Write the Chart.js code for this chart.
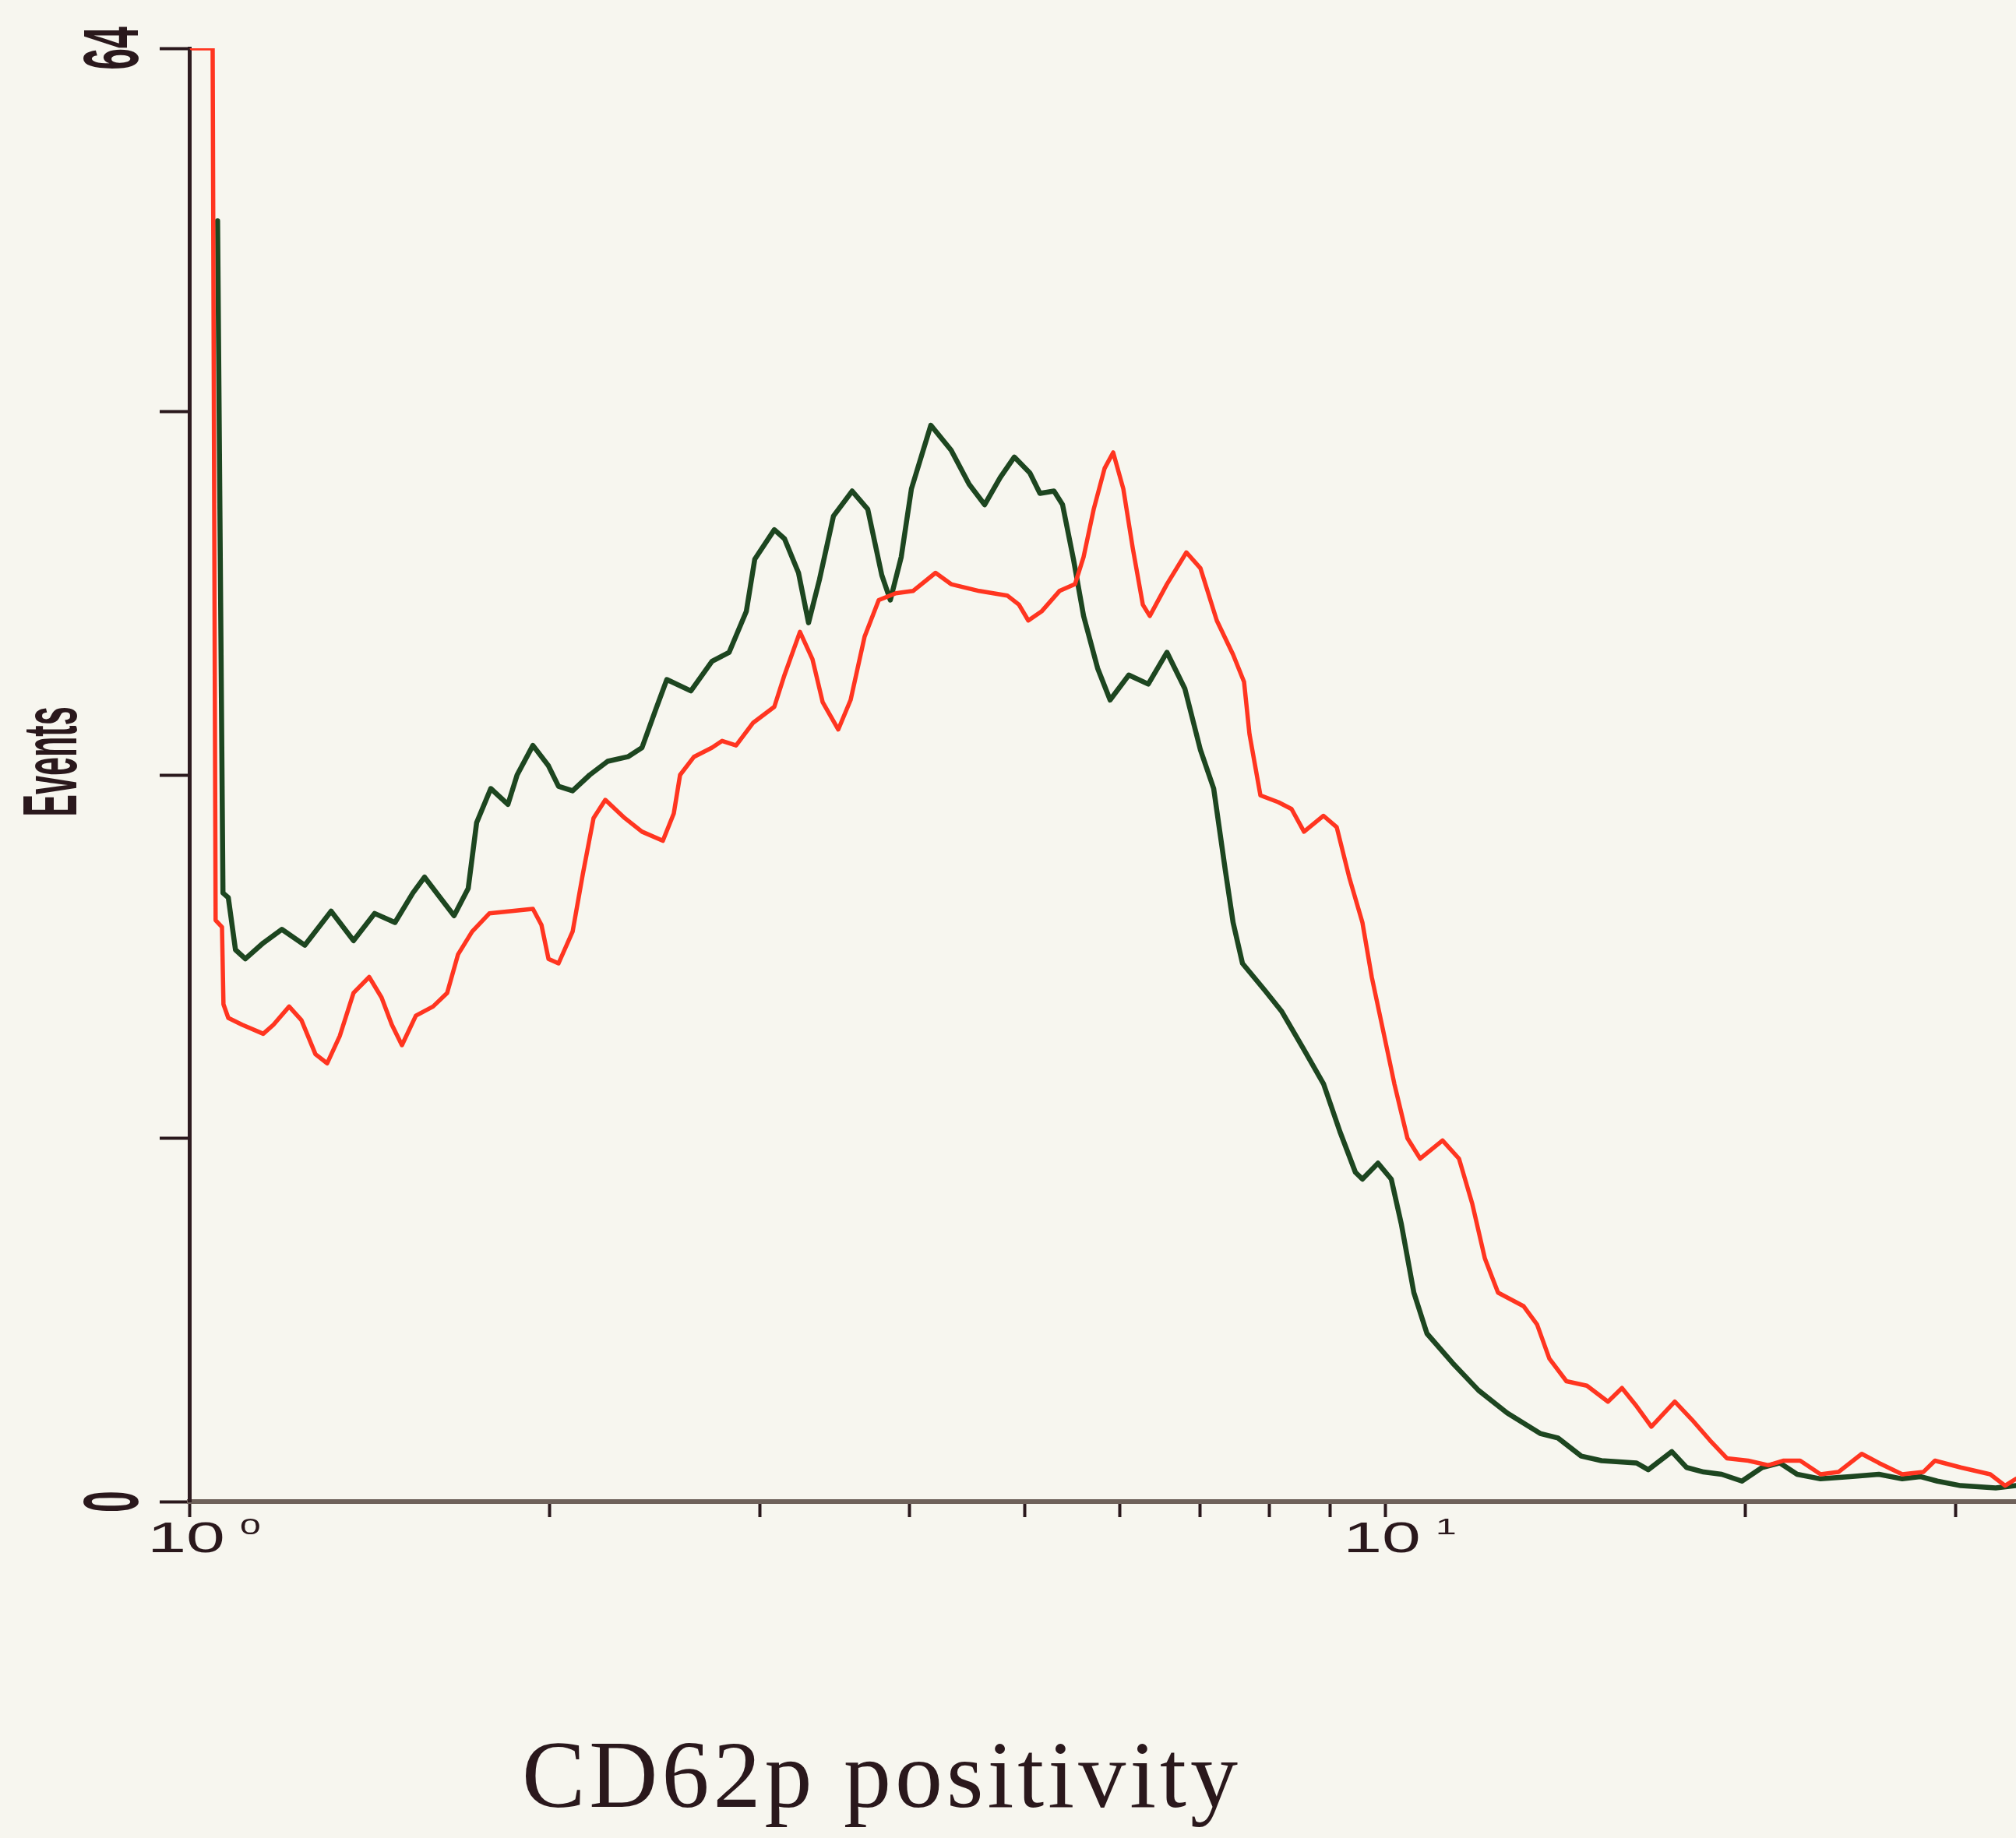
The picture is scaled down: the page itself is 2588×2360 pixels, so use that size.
<!DOCTYPE html>
<html>
<head>
<meta charset="utf-8">
<title>CD62p positivity</title>
<script src="https://cdn.jsdelivr.net/npm/chart.js@4.4.1/dist/chart.umd.min.js"></script>
<style>
  html, body { margin: 0; padding: 0; background: #f7f6ef; }
  canvas { display: block; }
</style>
</head>
<body>
<canvas id="hist" width="2588" height="2360"></canvas>
<script>
// ---- Histogram data (fluorescence intensity, log scale; events per channel) ----
const greenX = [
  1.056, 1.067, 1.078, 1.093, 1.114, 1.153, 1.195, 1.249, 1.314, 1.372,
  1.429, 1.486, 1.538, 1.573, 1.621, 1.665, 1.711, 1.739, 1.787, 1.847,
  1.880, 1.938, 1.997, 2.036, 2.092, 2.162, 2.238, 2.327, 2.391, 2.456,
  2.508, 2.627, 2.736, 2.828, 2.923, 2.971, 3.085, 3.146, 3.232, 3.295,
  3.365, 3.457, 3.584, 3.693, 3.794, 3.857, 3.939, 4.017, 4.170, 4.336,
  4.489, 4.625, 4.766, 4.897, 5.046, 5.145, 5.286, 5.374, 5.488, 5.596,
  5.749, 5.889, 6.105, 6.338, 6.570, 6.801, 7.008, 7.189, 7.352, 7.463,
  7.599, 7.937, 8.191, 8.555, 8.882, 9.166, 9.445, 9.573, 9.865, 10.12,
  10.32, 10.57, 10.84, 11.39, 11.97, 12.65, 13.48, 13.95, 14.59, 15.17,
  16.23, 16.60, 17.37, 17.87, 18.47, 19.12, 19.88, 20.67, 21.39, 22.11,
  23.13, 24.49, 25.88, 27.07, 28.02, 28.96, 30.30, 32.41, 33.70
];
const greenY = [
  56.4, 26.8, 26.6, 24.3, 23.9, 24.6, 25.2, 24.5, 26.0, 24.7,
  25.9, 25.5, 26.8, 27.5, 26.6, 25.8, 27.0, 29.9, 31.4, 30.7,
  32.0, 33.3, 32.4, 31.5, 31.3, 32.0, 32.6, 32.8, 33.2, 34.9,
  36.2, 35.7, 37.0, 37.4, 39.2, 41.5, 42.8, 42.4, 40.9, 38.7,
  40.6, 43.4, 44.5, 43.7, 40.8, 39.7, 41.6, 44.6, 47.4, 46.3,
  44.8, 43.9, 45.1, 46.0, 45.3, 44.4, 44.5, 43.9, 41.5, 39.0,
  36.7, 35.3, 36.4, 36.0, 37.4, 35.8, 33.1, 31.4, 27.8, 25.5,
  23.7, 22.5, 21.6, 19.9, 18.4, 16.3, 14.5, 14.2, 14.9, 14.2,
  12.2, 9.2, 7.4, 6.1, 4.9, 3.9, 3.0, 2.8, 2.0, 1.8,
  1.7, 1.4, 2.2, 1.5, 1.3, 1.2, 0.9, 1.5, 1.7, 1.2,
  1.0, 1.1, 1.2, 1.0, 1.1, 0.9, 0.7, 0.6, 0.7
];

const redX = [
  1.005, 1.046, 1.052, 1.065, 1.068, 1.078, 1.107, 1.153, 1.176, 1.212,
  1.241, 1.275, 1.304, 1.336, 1.372, 1.414, 1.448, 1.477, 1.506, 1.547,
  1.599, 1.643, 1.678, 1.724, 1.782, 1.855, 1.938, 1.970, 1.997, 2.036,
  2.092, 2.133, 2.178, 2.228, 2.313, 2.391, 2.489, 2.542, 2.573, 2.643,
  2.736, 2.790, 2.866, 2.962, 3.085, 3.146, 3.241, 3.320, 3.386, 3.489,
  3.573, 3.671, 3.772, 3.898, 4.029, 4.208, 4.336, 4.577, 4.831, 4.941,
  5.031, 5.161, 5.342, 5.504, 5.596, 5.706, 5.827, 5.924, 6.041, 6.151,
  6.272, 6.357, 6.570, 6.821, 7.008, 7.232, 7.463, 7.622, 7.702, 7.866,
  8.142, 8.352, 8.555, 8.882, 9.111, 9.332, 9.573, 9.747, 9.939, 10.18,
  10.44, 10.70, 11.17, 11.53, 11.83, 12.12, 12.43, 13.06, 13.40, 13.72,
  14.18, 14.75, 15.36, 15.78, 16.23, 16.70, 17.47, 18.06, 18.69, 19.32,
  20.12, 20.92, 21.52, 22.24, 23.13, 23.94, 25.04, 25.88, 27.07, 28.19,
  28.83, 30.30, 32.07, 33.00, 33.70
];
const redY = [
  64, 64, 25.6, 25.3, 21.9, 21.3, 21.0, 20.6, 21.0, 21.8,
  21.2, 19.7, 19.3, 20.5, 22.4, 23.1, 22.2, 21.0, 20.1, 21.4,
  21.8, 22.4, 24.1, 25.1, 25.9, 26.0, 26.1, 25.4, 23.9, 23.7,
  25.1, 27.6, 30.1, 30.9, 30.1, 29.5, 29.1, 30.3, 32.0, 32.8,
  33.2, 33.5, 33.3, 34.3, 35.0, 36.4, 38.3, 37.1, 35.2, 34.0,
  35.3, 38.1, 39.7, 40.0, 40.1, 40.9, 40.4, 40.1, 39.9, 39.5,
  38.8, 39.2, 40.1, 40.4, 41.6, 43.7, 45.5, 46.2, 44.6, 42.0,
  39.5, 39.0, 40.4, 41.8, 41.1, 38.8, 37.3, 36.1, 33.8, 31.1,
  30.8, 30.5, 29.5, 30.2, 29.7, 27.5, 25.5, 23.1, 21.0, 18.4,
  16.0, 15.1, 15.9, 15.1, 13.1, 10.7, 9.2, 8.6, 7.8, 6.3,
  5.3, 5.1, 4.4, 5.0, 4.2, 3.3, 4.4, 3.6, 2.7, 1.9,
  1.8, 1.6, 1.8, 1.8, 1.2, 1.3, 2.1, 1.7, 1.2, 1.3,
  1.8, 1.5, 1.2, 0.7, 1.0
];

// ---- Axes ----
const xMin = 1;
const xMax = 33.7;
const xTickValues = [1, 2, 3, 4, 5, 6, 7, 8, 9, 10, 20, 30];
const decadeValues = [1, 10];
const decadeBase = '10';
const decadeExponents = ['0', '1'];

const yMin = 0;
const yMax = 64;
const yTickValues = [0, 16, 32, 48, 64];
const yLabelValues = [0, 64];
const yLabelText = ['0', '64'];

const yTitle = 'Events';
const xTitle = 'CD62p positivity';

// ---- Styles ----
const BG = '#f7f6ef';
const INK = '#2a181c';
const GREEN = '#1d4620';
const RED = '#ff3520';
const SANS = '"Liberation Sans", Arial, Helvetica, sans-serif';

function toPoints(xs, ys) {
  const n = Math.min(xs.length, ys.length);
  const pts = [];
  for (let i = 0; i < n; i++) pts.push({ x: xs[i], y: ys[i] });
  return pts;
}

const backgroundPlugin = {
  id: 'paper',
  beforeDraw(chart) {
    const { ctx, width, height } = chart;
    ctx.save();
    ctx.fillStyle = BG;
    ctx.fillRect(0, 0, width, height);
    ctx.restore();
  }
};

// Axis labels drawn in the cytometer's own style: condensed, rotated y labels,
// stretched decade labels with superscript exponents, serif axis title.
const labelPlugin = {
  id: 'histLabels',
  afterDraw(chart) {
    const { ctx, chartArea, scales: { x, y } } = chart;
    ctx.save();
    ctx.fillStyle = INK;

    // y end labels
    yLabelValues.forEach((v, i) => {
      ctx.save();
      ctx.translate(chartArea.left - 66, y.getPixelForValue(v));
      ctx.rotate(-Math.PI / 2);
      ctx.scale(0.5, 1);
      ctx.font = 'bold 100px ' + SANS;
      ctx.textAlign = 'center';
      ctx.textBaseline = 'alphabetic';
      ctx.fillText(yLabelText[i], 0, 0);
      ctx.restore();
    });

    // y title
    ctx.save();
    ctx.translate(98, 978);
    ctx.rotate(-Math.PI / 2);
    ctx.scale(0.44, 1);
    ctx.font = 'bold 98px ' + SANS;
    ctx.textAlign = 'center';
    ctx.textBaseline = 'alphabetic';
    ctx.fillText(yTitle, 0, 0);
    ctx.restore();

    // decade labels on the x axis
    decadeValues.forEach((v, i) => {
      const px = x.getPixelForValue(v) - 4;
      ctx.save();
      ctx.translate(px, chartArea.bottom + 65);
      ctx.scale(1.6, 1);
      ctx.font = '56px ' + SANS;
      ctx.textAlign = 'center';
      ctx.textBaseline = 'alphabetic';
      ctx.fillText(decadeBase, 0, 0);
      const w = ctx.measureText(decadeBase).width;
      ctx.font = '30px ' + SANS;
      ctx.textAlign = 'left';
      ctx.fillText(decadeExponents[i], w / 2 + 12, -23);
      ctx.restore();
    });

    // x title
    ctx.save();
    ctx.font = '122px "Liberation Serif", "Times New Roman", serif';
    ctx.letterSpacing = '5px';
    ctx.textAlign = 'left';
    ctx.textBaseline = 'alphabetic';
    ctx.fillText(xTitle, 670, 2320);
    ctx.restore();

    ctx.restore();
  }
};

new Chart(document.getElementById('hist'), {
  type: 'line',
  data: {
    datasets: [
      {
        label: 'Sample 2',
        data: toPoints(redX, redY),
        borderColor: RED,
        borderWidth: 5.5,
        order: 0
      },
      {
        label: 'Sample 1',
        data: toPoints(greenX, greenY),
        borderColor: GREEN,
        borderWidth: 6.5,
        order: 1
      }
    ]
  },
  options: {
    responsive: false,
    animation: false,
    devicePixelRatio: 1,
    layout: { padding: { top: 62, right: 0, bottom: 0, left: 0 } },
    elements: {
      point: { radius: 0 },
      line: { tension: 0, borderJoinStyle: 'round', borderCapStyle: 'round', fill: false }
    },
    plugins: {
      legend: { display: false },
      tooltip: { enabled: false }
    },
    scales: {
      x: {
        type: 'logarithmic',
        position: 'bottom',
        min: xMin,
        max: xMax,
        afterBuildTicks: (scale) => { scale.ticks = xTickValues.map(v => ({ value: v })); },
        afterFit: (scale) => { scale.height = 432; },
        ticks: { display: false },
        grid: {
          drawOnChartArea: false,
          drawTicks: true,
          tickLength: 20,
          tickWidth: 4,
          tickColor: INK
        },
        border: { display: true, color: '#6f625b', width: 6 }
      },
      y: {
        type: 'linear',
        position: 'left',
        min: yMin,
        max: yMax,
        afterBuildTicks: (scale) => { scale.ticks = yTickValues.map(v => ({ value: v })); },
        afterFit: (scale) => { scale.width = 243; },
        ticks: { display: false },
        grid: {
          drawOnChartArea: false,
          drawTicks: true,
          tickLength: 38,
          tickWidth: 4,
          tickColor: INK
        },
        border: { display: true, color: '#2e1b20', width: 5 }
      }
    }
  },
  plugins: [backgroundPlugin, labelPlugin]
});
</script>
</body>
</html>
